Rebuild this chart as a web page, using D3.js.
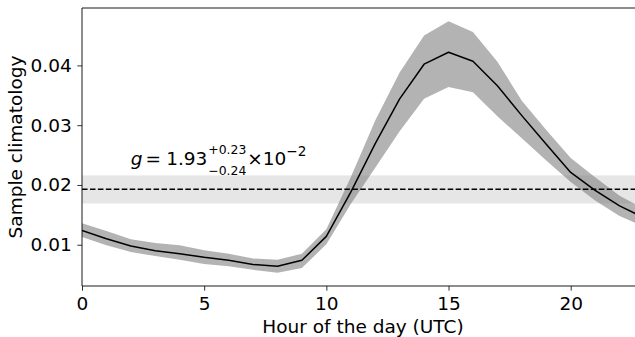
<!DOCTYPE html>
<html>
<head>
<meta charset="utf-8">
<script src="https://cdn.jsdelivr.net/npm/d3@7/dist/d3.min.js"></script>
<style>
body{margin:0;background:#fff;}
text{font-family:"DejaVu Sans",sans-serif;fill:#000;}
</style>
</head>
<body>
<div id="chart"></div>
<script>
// hour of day (UTC)
var hours = [0,1,2,3,4,5,6,7,8,9,10,11,12,13,14,15,16,17,18,19,20,21,22,23];
// sample climatology, mean and shaded band
var meanVals  = [0.0124,0.0110,0.0098,0.0090,0.0085,0.0079,0.0074,0.0067,0.0064,0.0074,0.0114,0.0188,0.0269,0.0344,0.0402,0.0422,0.0407,0.0366,0.0316,0.0268,0.0221,0.0191,0.0165,0.0145];
var upperVals = [0.0136,0.0123,0.0109,0.0103,0.0099,0.0091,0.0085,0.0077,0.0075,0.0085,0.0126,0.0213,0.0308,0.0388,0.0450,0.0474,0.0456,0.0406,0.0341,0.0292,0.0245,0.0213,0.0182,0.0160];
var lowerVals = [0.0113,0.0099,0.0088,0.0081,0.0075,0.0068,0.0064,0.0058,0.0053,0.0061,0.0101,0.0168,0.0229,0.0290,0.0344,0.0364,0.0355,0.0315,0.0278,0.0241,0.0205,0.0174,0.0148,0.0130];
// fitted constant g and its interval
var gValue = 0.0193, gUpper = 0.0216, gLower = 0.0169;
var xTicks = [0,5,10,15,20];
var yTicks = [0.01,0.02,0.03,0.04];

var W = 635, H = 337;
var margin = {top:8, left:82, bottom:51};
var plotW = 562, plotH = H - margin.top - margin.bottom;
var fs = 18.5;

var svg = d3.select("#chart").append("svg")
    .attr("width", W).attr("height", H);

var x = d3.scaleLinear().domain([0,23]).range([margin.left, margin.left+plotW]);
var y = d3.scaleLinear().domain([0.0031,0.0496]).range([margin.top+plotH, margin.top]);

svg.append("clipPath").attr("id","clip")
  .append("rect")
  .attr("x", margin.left).attr("y", margin.top)
  .attr("width", plotW).attr("height", plotH);

var plot = svg.append("g").attr("clip-path","url(#clip)");

// g interval band
plot.append("rect")
  .attr("x", x(0)).attr("y", y(gUpper))
  .attr("width", x(23)-x(0)).attr("height", y(gLower)-y(gUpper))
  .style("fill","#808080").style("fill-opacity",0.2);

var data = hours.map(function(h,i){
  return {h:h, m:meanVals[i], lo:lowerVals[i], hi:upperVals[i]};
});

var area = d3.area()
  .x(function(d){return x(d.h);})
  .y0(function(d){return y(d.lo);})
  .y1(function(d){return y(d.hi);});

plot.append("path").datum(data)
  .attr("d", area)
  .style("fill","#808080").style("fill-opacity",0.6);

plot.append("path")
  .attr("d", d3.line()([[x(0), y(gValue)],[x(23), y(gValue)]]))
  .attr("fill","none").attr("stroke","#000")
  .attr("stroke-width",1.5).attr("stroke-dasharray","5.55,2.4");

var line = d3.line()
  .x(function(d){return x(d.h);})
  .y(function(d){return y(d.m);});

plot.append("path").datum(data)
  .attr("d", line)
  .attr("fill","none").attr("stroke","#000")
  .attr("stroke-width",1.5).attr("stroke-linejoin","round");

// axes
var xAxis = svg.append("g")
  .attr("transform","translate(0,"+(margin.top+plotH)+")")
  .call(d3.axisBottom(x).tickValues(xTicks).tickSize(4.7).tickPadding(6).tickFormat(d3.format("d")));
var yAxis = svg.append("g")
  .attr("transform","translate("+margin.left+",0)")
  .call(d3.axisLeft(y).tickValues(yTicks).tickSize(4.7).tickPadding(5.6).tickFormat(d3.format(".2f")));

[xAxis, yAxis].forEach(function(a){
  a.select(".domain").remove();
  a.selectAll(".tick line").attr("stroke","#000").attr("stroke-width",0.8);
  a.selectAll(".tick text").style("font-size", fs+"px").style("font-family","DejaVu Sans");
});

// spines
svg.append("path")
  .attr("d", d3.line()([[x(0), y.range()[1]],[x(0), y.range()[0]]]))
  .attr("stroke","#000").attr("stroke-width",0.9).attr("fill","none");
svg.append("path")
  .attr("d", d3.line()([[x(0), y.range()[0]],[x(23), y.range()[0]]]))
  .attr("stroke","#000").attr("stroke-width",0.9).attr("fill","none");
svg.append("path")
  .attr("d", d3.line()([[x(0), y.range()[1]],[x(23), y.range()[1]]]))
  .attr("stroke","#000").attr("stroke-width",0.9).attr("fill","none");

// axis labels
svg.append("text")
  .attr("x", (x(0)+x(23))/2).attr("y", 332.5)
  .attr("text-anchor","middle")
  .style("font-size", fs+"px")
  .text("Hour of the day (UTC)");

svg.append("text")
  .attr("transform","translate(21.8,"+((y.range()[0]+y.range()[1])/2)+") rotate(-90)")
  .attr("text-anchor","middle")
  .style("font-size", fs+"px")
  .text("Sample climatology");

// annotation g = 1.93 (+0.23 / -0.24) x 10^-2
var ann = svg.append("g")
  .attr("transform","translate("+x(2)+","+y(0.0234)+")");
var t1 = ann.append("text").attr("x",0).attr("y",0).style("font-size", fs+"px");
t1.append("tspan").style("font-style","italic").text("g");
t1.append("tspan").attr("dx",3).text("=");
t1.append("tspan").attr("dx",5).text("1.93");
var w1 = t1.node().getComputedTextLength() + 9;
var sup = ann.append("text").attr("x", w1).attr("y",-11).style("font-size","12.4px").text("+0.23");
var sub = ann.append("text").attr("x", w1).attr("y",10).style("font-size","12.4px").text("\u22120.24");
var w2 = w1 + Math.max(sup.node().getComputedTextLength(), sub.node().getComputedTextLength()) + 1;
var t2 = ann.append("text").attr("x", w2).attr("y",0).style("font-size", fs+"px").text("\u00d710");
var w3 = w2 + t2.node().getComputedTextLength();
ann.append("text").attr("x", w3).attr("y",-9).style("font-size","13.6px").text("\u22122");
</script>
</body>
</html>
